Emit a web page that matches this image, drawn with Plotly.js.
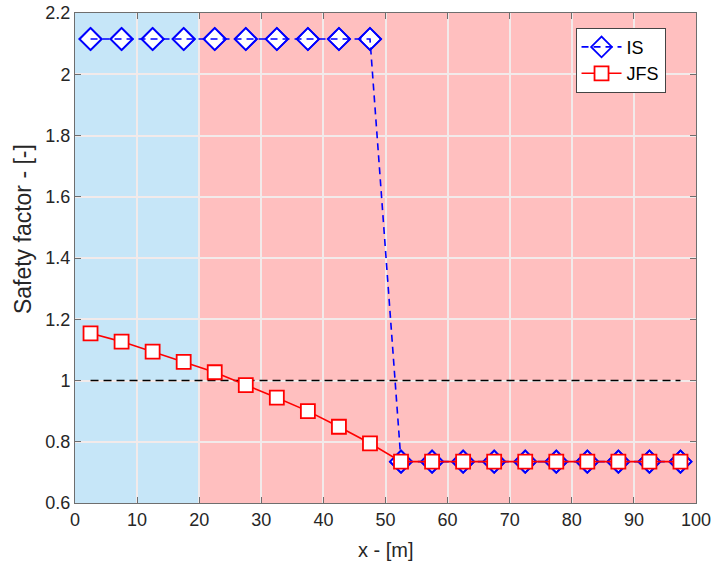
<!DOCTYPE html>
<html>
<head>
<meta charset="utf-8">
<script src="https://cdn.plot.ly/plotly-3.0.1.min.js"></script>
<style>html,body{margin:0;padding:0;background:#fff;}#chart{width:713px;height:566px;}</style>
</head>
<body>
<div id="chart"></div>
<script>
// Data
const xPos = [2.5, 7.5, 12.5, 17.5, 22.5, 27.5, 32.5, 37.5, 42.5, 47.5, 52.5, 57.5, 62.5, 67.5, 72.5, 77.5, 82.5, 87.5, 92.5, 97.5];
const isValues = [2.115, 2.115, 2.115, 2.115, 2.115, 2.115, 2.115, 2.115, 2.115, 2.115, 0.735, 0.735, 0.735, 0.735, 0.735, 0.735, 0.735, 0.735, 0.735, 0.735];
const jfsValues = [1.154, 1.127, 1.094, 1.061, 1.027, 0.985, 0.944, 0.900, 0.849, 0.795, 0.735, 0.735, 0.735, 0.735, 0.735, 0.735, 0.735, 0.735, 0.735, 0.735];
const thresholdX = [2.5, 97.5];
const thresholdY = [1, 1];
const zoneBounds = [0, 20, 100];
const xTicks = [0, 10, 20, 30, 40, 50, 60, 70, 80, 90, 100];
const yTicks = [0.6, 0.8, 1, 1.2, 1.4, 1.6, 1.8, 2, 2.2];
const seriesNames = ['IS', 'JFS'];
const xTitle = 'x - [m]';
const yTitle = 'Safety factor - [-]';

const fam = 'Liberation Sans, Arial, sans-serif';
const font = {family: fam, size: 18, color: '#262626'};

const traces = [
  {x: thresholdX, y: thresholdY, mode: 'lines', line: {color: '#000', width: 1.6, dash: '8px,5px'}, showlegend: false, hoverinfo: 'skip'},
  {x: xPos, y: isValues, mode: 'markers', name: seriesNames[0], showlegend: false,
   marker: {symbol: 'diamond', size: 17, color: '#fff', line: {color: '#0000ff', width: 1.8}}},
  {x: xPos, y: isValues, mode: 'lines+markers', name: seriesNames[0],
   line: {color: '#0000ff', width: 1.6, dash: '7px,5px'},
   marker: {symbol: 'diamond', size: 17, color: 'rgba(255,255,255,0)', line: {color: '#0000ff', width: 1.8}}},
  {x: xPos, y: jfsValues, mode: 'lines+markers', name: seriesNames[1],
   line: {color: '#ff0000', width: 1.6},
   marker: {symbol: 'square', size: 14, color: '#fff', line: {color: '#ff0000', width: 1.8}}}
];

const axisCommon = {showgrid: true, gridcolor: '#f2eaea', gridwidth: 2, zeroline: false, showline: true,
  linecolor: '#6e6e6e', linewidth: 1, mirror: 'ticks', ticks: 'inside', ticklen: 6, tickcolor: '#6e6e6e',
  tickfont: {family: fam, size: 18, color: '#262626'}};

const layout = {
  width: 713, height: 566,
  margin: {l: 75, r: 17, t: 13, b: 63},
  paper_bgcolor: '#fff', plot_bgcolor: '#fff',
  font: font,
  showlegend: true,
  legend: {x: 0.806, y: 0.97, xanchor: 'left', yanchor: 'top', bgcolor: '#fff', bordercolor: '#444', borderwidth: 1,
           font: {family: fam, size: 18, color: '#000'}, tracegroupgap: 0, itemwidth: 40},
  xaxis: Object.assign({range: [0, 100], tickvals: xTicks, ticktext: xTicks.map(String)}, axisCommon),
  yaxis: Object.assign({range: [0.6, 2.2], tickvals: yTicks, ticktext: yTicks.map(v => String(v))}, axisCommon),
  annotations: [
    {text: xTitle, xref: 'paper', yref: 'paper', x: 0.5, y: -0.096, xanchor: 'center', yanchor: 'middle', showarrow: false,
     font: {family: fam, size: 20, color: '#262626'}},
    {text: yTitle, xref: 'paper', yref: 'paper', x: 0, xshift: -52, y: 0.559, xanchor: 'center', yanchor: 'middle', textangle: -90, showarrow: false,
     font: {family: fam, size: 23, color: '#262626'}}
  ],
  shapes: [
    {type: 'rect', xref: 'x', yref: 'paper', x0: zoneBounds[0], x1: zoneBounds[1], y0: 0, y1: 1, fillcolor: '#c6e6f8', line: {width: 0}, layer: 'below'},
    {type: 'rect', xref: 'x', yref: 'paper', x0: zoneBounds[1], x1: zoneBounds[2], y0: 0, y1: 1, fillcolor: '#ffbfbf', line: {width: 0}, layer: 'below'},
    {type: 'line', xref: 'x', yref: 'paper', x0: zoneBounds[1], x1: zoneBounds[1], y0: 0, y1: 1, line: {color: '#000', width: 1.2}, layer: 'between'}
  ]
};

Plotly.newPlot('chart', traces, layout, {displayModeBar: false, staticPlot: true});
</script>
</body>
</html>
